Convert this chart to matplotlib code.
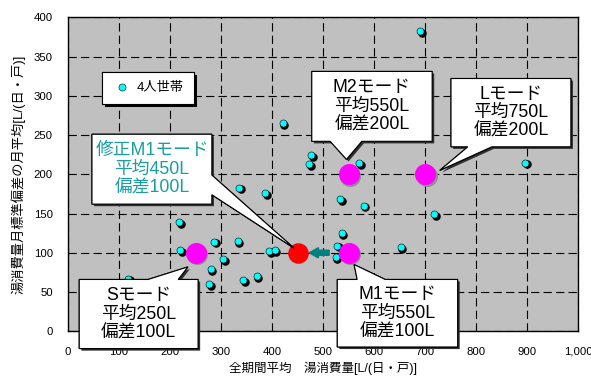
import numpy as np
import matplotlib
matplotlib.use("Agg")
import matplotlib.pyplot as plt
import matplotlib.patheffects as pe
from matplotlib.patches import Polygon, FancyArrow
from matplotlib.transforms import offset_copy
from matplotlib.ticker import FuncFormatter

plt.rcParams['font.family'] = ['Liberation Sans', 'Noto Sans CJK JP', 'DejaVu Sans']
plt.rcParams['lines.scale_dashes'] = False

# 4人世帯 (cyan)
house_x = [336, 387, 218, 287, 333, 220, 304, 280, 343, 370, 277, 118, 395, 405,
           421, 477, 473, 571, 534, 580, 718, 537, 528, 525, 652, 690, 897]
house_y = [183, 176, 139, 114, 115, 103, 92, 79, 65, 70, 60, 67, 102, 103,
           265, 224, 213, 214, 168, 160, 149, 125, 109, 94, 107, 382, 215]

# モード (S, M1, M2, L)
mode_x = [250, 550, 550, 700]
mode_y = [100, 100, 200, 200]

# 修正M1モード
mod_x = [450]
mod_y = [100]

fig = plt.figure(figsize=(5.91, 3.79), dpi=100)
ax = fig.add_axes([0.1151, 0.1259, 0.8629, 0.8285])
ax.set_facecolor('#C0C0C0')
ax.set_xlim(0, 1000)
ax.set_ylim(0, 400)
ax.set_xticks(np.arange(0, 1001, 100))
ax.set_yticks(np.arange(0, 401, 50))
ax.xaxis.set_major_formatter(FuncFormatter(lambda v, p: f"{int(v):,}"))
ax.tick_params(length=0, labelsize=8.2)
ax.tick_params(axis='x', pad=11)
ax.tick_params(axis='y', pad=11)
ax.grid(True, color='black', lw=0.8, ls=(0, (6, 3)))
ax.set_axisbelow(True)
for s in ax.spines.values():
    s.set_color('black')
    s.set_linewidth(1)

ax.set_xlabel('全期間平均\u3000湯消費量[L/(日・戸)]', fontsize=9, labelpad=4)
ax.set_ylabel('湯消費量月標準偏差の月平均[L/(日・戸)]', fontsize=9.5, labelpad=6)

shadow = offset_copy(ax.transData, fig=fig, x=1.6, y=-1.6, units='dots')
ax.scatter(house_x, house_y, s=26, color='black', transform=shadow, zorder=3)
ax.scatter(house_x, house_y, s=26, color='#00FFFF', edgecolors='black',
           linewidths=0.4, zorder=4, label='4人世帯')

ax.scatter(mode_x, mode_y, s=200, color='#909090', transform=shadow, zorder=5)
ax.scatter(mode_x, mode_y, s=200, color='#FF00FF', zorder=6)
ax.scatter(mod_x, mod_y, s=190, color='#FF0000', zorder=6)

ax.add_patch(FancyArrow(512, 100, -21, 0, width=6.5, head_width=13,
                        head_length=18, length_includes_head=False,
                        color='#008080', zorder=6))


def callout(box, base, tip, side, text, color='black'):
    x0, x1, y0, y1 = box
    if side == 'bottom':
        pts = [(x0, y1), (x1, y1), (x1, y0), (base[1], y0), tip, (base[0], y0), (x0, y0)]
    elif side == 'top':
        pts = [(x0, y1), (base[0], y1), tip, (base[1], y1), (x1, y1), (x1, y0), (x0, y0)]
    else:  # right
        pts = [(x0, y1), (x1, y1), (x1, base[0]), tip, (x1, base[1]), (x1, y0), (x0, y0)]
    poly = Polygon(pts, closed=True, facecolor='white', edgecolor='black',
                   lw=0.8, clip_on=False, zorder=8,
                   path_effects=[pe.withSimplePatchShadow(offset=(1.5, -1.5),
                                                          shadow_rgbFace='#303030',
                                                          alpha=1), pe.Normal()])
    ax.add_patch(poly)
    ax.text((x0 + x1) / 2, (y0 + y1) / 2, text, ha='center', va='center',
            multialignment='center', fontsize=12.8, color=color,
            linespacing=1.12, zorder=9, clip_on=False)


callout((47, 282, 162, 251), (199, 174), (443, 106), 'right',
        '修正M1モード\n平均450L\n偏差100L', color='#1A9E9E')
callout((478, 714, 242, 331), (514, 576), (546, 219), 'bottom',
        'M2モード\n平均550L\n偏差200L')
callout((751, 986, 235, 322), (784, 831), (729, 205), 'bottom',
        'Lモード\n平均750L\n偏差200L')
callout((22, 255, -22, 66), (157, 216), (235, 82), 'top',
        'Sモード\n平均250L\n偏差100L')
callout((528, 764, -20, 66), (567, 622), (561, 85), 'top',
        'M1モード\n平均550L\n偏差100L')

leg = ax.legend(loc='upper left', bbox_to_anchor=(0.066, 0.827), frameon=True,
                fancybox=False, fontsize=9.5, handlelength=1.6,
                handletextpad=0.3, borderpad=0.75, borderaxespad=0,
                scatterpoints=1)
fr = leg.get_frame()
fr.set_edgecolor('black')
fr.set_linewidth(0.8)
fr.set_facecolor('white')
fr.set_alpha(1)
fr.set_path_effects([pe.withSimplePatchShadow(offset=(2.2, -2.2),
                                              shadow_rgbFace='black', alpha=1),
                     pe.Normal()])
leg.set_zorder(10)

fig.savefig('out.png', dpi=100)
